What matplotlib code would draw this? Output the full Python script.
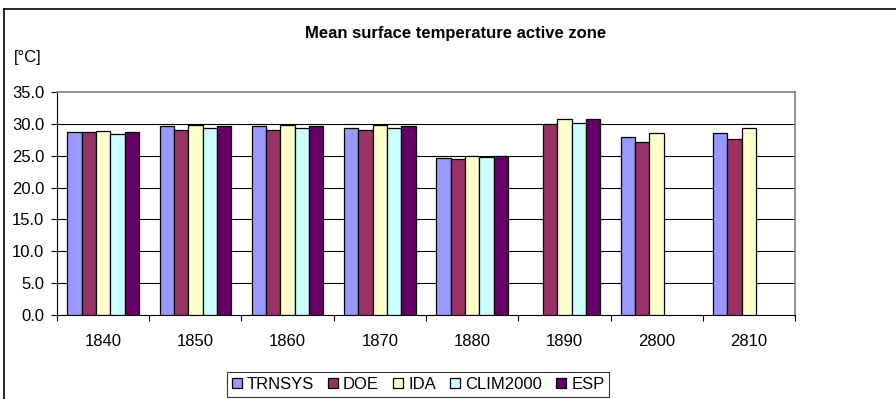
import matplotlib
matplotlib.use('agg')
import matplotlib.pyplot as plt
import numpy as np

plt.rcParams['font.family'] = ['Liberation Sans', 'DejaVu Sans']

years = ['1840', '1850', '1860', '1870', '1880', '1890', '2800', '2810']
series_names = ['TRNSYS', 'DOE', 'IDA', 'CLIM2000', 'ESP']
trnsys = [28.7, 29.6, 29.6, 29.4, 24.7, np.nan, 27.9, 28.5]
doe = [28.7, 29.1, 29.1, 29.1, 24.5, 30.0, 27.1, 27.6]
ida = [28.9, 29.9, 29.9, 29.9, 25.0, 30.7, 28.6, 29.4]
clim2000 = [28.4, 29.3, 29.3, 29.3, 24.8, 30.2, np.nan, np.nan]
esp = [28.7, 29.6, 29.6, 29.6, 25.0, 30.8, np.nan, np.nan]
colors = ['#9999FF', '#993366', '#FFFFCC', '#CCFFFF', '#660066']

fig = plt.figure(figsize=(8.96, 3.99), dpi=100)
ax = fig.add_axes([0.0636, 0.2105, 0.8237, 0.5589])

x = np.arange(len(years))
width = 0.155
all_series = [trnsys, doe, ida, clim2000, esp]
for i, (name, vals) in enumerate(zip(series_names, all_series)):
    ax.bar(x + (i - 2) * width, vals, width, color=colors[i], edgecolor='black',
           linewidth=0.9, label=name, zorder=3)

ax.set_xlim(-0.5, len(years) - 0.5)
ax.set_ylim(0, 35)
yt = np.arange(0, 35.1, 5)
ax.set_yticks(yt)
ax.set_yticklabels([f'{v:.1f}' for v in yt], fontsize=12)
for v in yt[1:-1]:
    ax.axhline(v, color='black', linewidth=0.8, zorder=1)

# category ticks on boundaries, labels at centers
ax.set_xticks(np.arange(-0.5, len(years), 1))
ax.set_xticklabels([])
ax.set_xticks(x, minor=True)
ax.set_xticklabels(years, minor=True, fontsize=12)
ax.tick_params(axis='x', which='minor', length=0, pad=14)
ax.tick_params(axis='x', which='major', length=4, width=0.8, direction='out')
ax.tick_params(axis='y', length=4, width=0.8, direction='out', pad=5)

ax.spines['top'].set_color('#808080')
ax.spines['right'].set_color('#808080')
ax.spines['top'].set_linewidth(1.2)
ax.spines['right'].set_linewidth(1.2)
ax.spines['left'].set_linewidth(0.8)
ax.spines['bottom'].set_linewidth(0.8)

fig.text(0.508, 0.917, 'Mean surface temperature active zone', ha='center', va='center',
         fontsize=12, fontweight='bold')
fig.text(0.016, 0.857, '[°C]', ha='left', va='center', fontsize=12)

# outer chart frame (clipped at right and bottom)
fig.add_artist(plt.Line2D([0.0045, 1.0], [0.977, 0.977], transform=fig.transFigure,
                          color='black', linewidth=1.2))
fig.add_artist(plt.Line2D([0.0045, 0.0045], [0.0, 0.977], transform=fig.transFigure,
                          color='black', linewidth=1.2))

leg = fig.legend(loc='upper left', bbox_to_anchor=(0.253, 0.068),
                 ncol=5, fontsize=12, frameon=True, fancybox=False,
                 handlelength=0.6, handleheight=0.6, handletextpad=0.3,
                 columnspacing=0.85, borderpad=0.3, borderaxespad=0)
leg.get_frame().set_edgecolor('black')
leg.get_frame().set_linewidth(0.8)

fig.savefig('out.png', dpi=100)
